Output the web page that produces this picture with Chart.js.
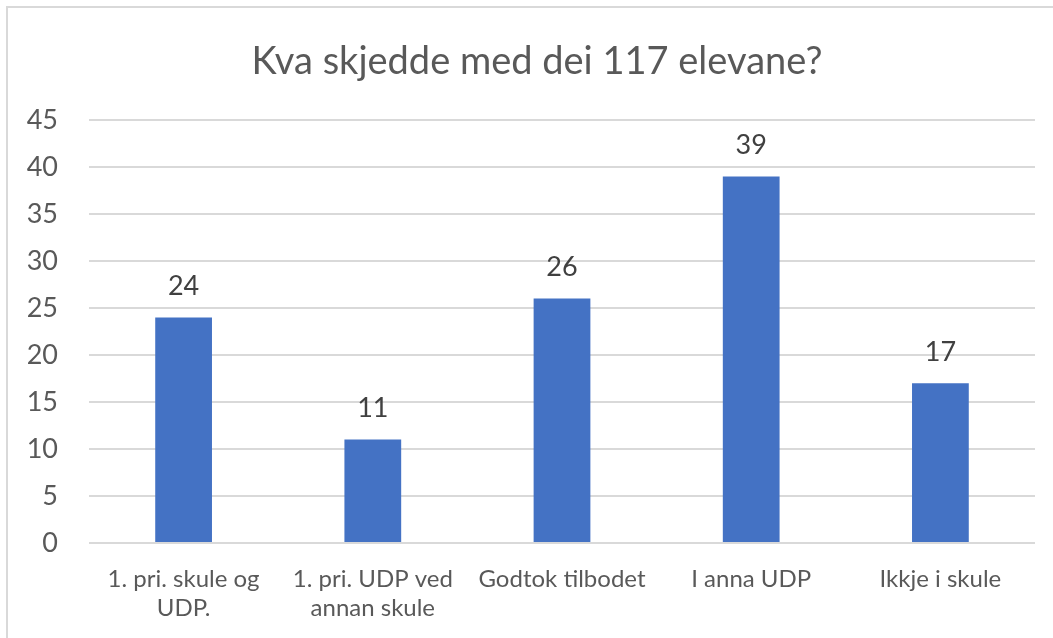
<!DOCTYPE html>
<html>
<head>
<meta charset="utf-8">
<script src="https://cdn.jsdelivr.net/npm/chart.js@4/dist/chart.umd.min.js"></script>
<style>
  html, body { margin: 0; padding: 0; background: #fff; overflow: hidden; }
  #wrap { position: relative; width: 1053px; height: 638px; }
  #frame { position: absolute; left: 6px; top: 6px; width: 1100px; height: 700px;
           border-left: 2px solid #d9d9d9; border-top: 2px solid #d9d9d9; }
  canvas { position: absolute; left: 0; top: 0; }
</style>
</head>
<body>
<div id="wrap">
  <div id="frame"></div>
  <canvas id="myChart" width="1053" height="638"></canvas>
</div>
<script>
const categories = [
    ["1. pri. skule og", "UDP."],
    ["1. pri. UDP ved", "annan skule"],
    "Godtok tilbodet",
    "I anna UDP",
    "Ikkje i skule"
];
const values = [24, 11, 26, 39, 17];
const titleText = "Kva skjedde med dei 117 elevane?";

const fontFamily = "Lato, 'Open Sans', sans-serif";

// value above every bar
const valueLabels = {
    id: "valueLabels",
    afterDatasetsDraw(chart) {
        const ctx = chart.ctx;
        const meta = chart.getDatasetMeta(0);
        ctx.save();
        ctx.fillStyle = "#404040";
        ctx.font = "27px " + fontFamily;
        ctx.textAlign = "center";
        ctx.textBaseline = "middle";
        meta.data.forEach((bar, i) => {
            ctx.fillText(String(values[i]), bar.x, bar.y - 31);
        });
        ctx.restore();
    }
};

// title, centred a little right of the canvas middle like the original
const chartTitle = {
    id: "chartTitle",
    afterDraw(chart) {
        const ctx = chart.ctx;
        ctx.save();
        ctx.fillStyle = "#595959";
        ctx.font = "38px " + fontFamily;
        ctx.textAlign = "center";
        ctx.textBaseline = "middle";
        ctx.fillText(titleText, 537, 62);
        ctx.restore();
    }
};

window.onload = () => {
    const data = {
        labels: categories,
        datasets: [
            {
                data: values,
                backgroundColor: "#4472c4",
                borderWidth: 0,
                barPercentage: 0.3,
                categoryPercentage: 1.0,
            },
        ],
    };

    const config = {
        type: "bar",
        data: data,
        options: {
            responsive: false,
            animation: false,
            layout: { padding: { left: 0, right: 18, top: 120, bottom: 0 } },
            plugins: {
                legend: { display: false },
                tooltip: { enabled: false },
                title: { display: false },
            },
            scales: {
                x: {
                    grid: { display: false, drawTicks: false },
                    border: { display: false },
                    ticks: {
                        color: "#595959",
                        font: { family: fontFamily, size: 24 },
                        maxRotation: 0,
                        autoSkip: false,
                        padding: 22,
                    },
                    afterFit(scale) { scale.height = 95; },
                },
                y: {
                    min: 0,
                    max: 45,
                    grid: { color: "#d9d9d9", lineWidth: 2, drawTicks: false },
                    border: { display: false },
                    ticks: {
                        stepSize: 5,
                        color: "#595959",
                        font: { family: fontFamily, size: 27 },
                        padding: 31,
                    },
                    afterFit(scale) { scale.width = 89; },
                },
            },
        },
        plugins: [valueLabels, chartTitle],
    };

    new Chart(document.getElementById("myChart"), config);
};
</script>
</body>
</html>
